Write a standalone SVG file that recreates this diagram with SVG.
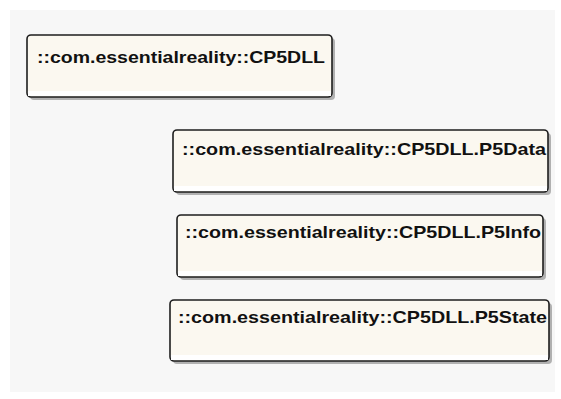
<svg xmlns="http://www.w3.org/2000/svg" width="561" height="399" viewBox="0 0 561 399">
<style>
.bg{fill:#f7f7f7}
.shadow{fill:#9a9a9a;opacity:0.75}
.box{fill:#fbf8f0;stroke:#1e1e1e;stroke-width:1.6}
.low{fill:#ffffff}
.lbl{font-family:"Liberation Sans",Arial,sans-serif;font-weight:bold;font-size:17px;fill:#111}
</style>
<rect width="561" height="399" fill="#ffffff"/>
<rect class="bg" x="10" y="10" width="545" height="382"/>
<g id="node-cp5dll">
<rect class="shadow" x="30" y="38" width="305" height="62" rx="4"/>
<rect class="box" x="27" y="35" width="305" height="62" rx="4"/>
<rect class="low" x="28" y="91" width="303" height="5"/>
<text class="lbl" x="37" y="63" textLength="288" lengthAdjust="spacingAndGlyphs">::com.essentialreality::CP5DLL</text>
</g>
<g id="node-p5data">
<rect class="shadow" x="176" y="133" width="375" height="62" rx="4"/>
<rect class="box" x="173" y="130" width="375" height="62" rx="4"/>
<rect class="low" x="174" y="186" width="373" height="5"/>
<text class="lbl" x="182" y="155" textLength="364" lengthAdjust="spacingAndGlyphs">::com.essentialreality::CP5DLL.P5Data</text>
</g>
<g id="node-p5info">
<rect class="shadow" x="180" y="218" width="366" height="62" rx="4"/>
<rect class="box" x="177" y="215" width="366" height="62" rx="4"/>
<rect class="low" x="178" y="271" width="364" height="5"/>
<text class="lbl" x="185" y="238" textLength="356" lengthAdjust="spacingAndGlyphs">::com.essentialreality::CP5DLL.P5Info</text>
</g>
<g id="node-p5state">
<rect class="shadow" x="173" y="303" width="379" height="61" rx="4"/>
<rect class="box" x="170" y="300" width="379" height="61" rx="4"/>
<rect class="low" x="171" y="355" width="377" height="5"/>
<text class="lbl" x="178" y="323" textLength="369" lengthAdjust="spacingAndGlyphs">::com.essentialreality::CP5DLL.P5State</text>
</g>
<g id="connectors"/>
</svg>
